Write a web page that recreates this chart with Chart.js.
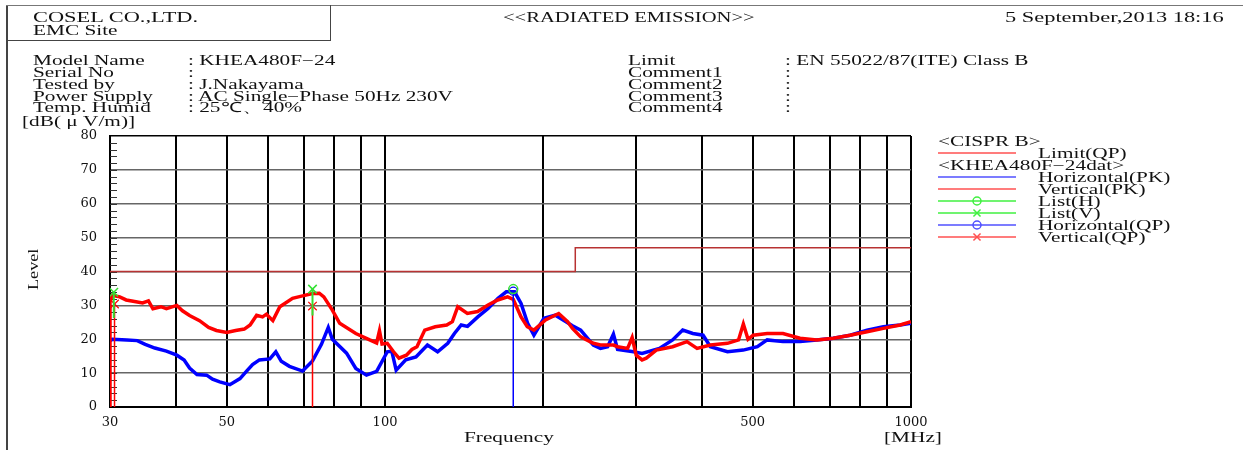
<!DOCTYPE html>
<html>
<head>
<meta charset="utf-8">
<script src="https://cdn.jsdelivr.net/npm/chart.js@4.4.0/dist/chart.umd.min.js"></script>
<style>
body { margin: 0; background: #fff; }
#wrap { position: relative; width: 1243px; height: 450px; overflow: hidden; }
canvas { position: absolute; left: 0; top: 0; }
.t { position: absolute; font: 14px 'Liberation Serif', serif; line-height: 14px; white-space: pre;
     transform-origin: 0 0; transform: scaleX(1.52); color: #111; }
.ln { position: absolute; background: #444; }
</style>
</head>
<body>
<div id="wrap">
  <canvas id="myChart" width="1243" height="450"></canvas>

  <div class="ln" style="left:6px;top:5px;width:2px;height:445px;"></div>
  <div class="ln" style="left:6px;top:5px;width:1237px;height:1px;background:#777;"></div>
  <div class="ln" style="left:6px;top:40px;width:325px;height:1px;"></div>
  <div class="ln" style="left:330px;top:5px;width:1px;height:36px;"></div>

  <div class="t" style="left:33px;top:11px;transform:scaleX(1.6);">COSEL CO.,LTD.</div>
  <div class="t" style="left:33px;top:24px;">EMC Site</div>
  <div class="t" style="left:503px;top:11px;transform:scaleX(1.47);">&lt;&lt;RADIATED EMISSION&gt;&gt;</div>
  <div class="t" style="left:1005px;top:11px;transform:scaleX(1.6);">5 September,2013 18:16</div>

  <div class="t" style="left:33px;top:54px;">Model Name</div>
  <div class="t" style="left:33px;top:66px;">Serial No</div>
  <div class="t" style="left:33px;top:78px;">Tested by</div>
  <div class="t" style="left:33px;top:90px;">Power Supply</div>
  <div class="t" style="left:33px;top:101px;">Temp. Humid</div>
  <div class="t" style="left:188px;top:54px;">: KHEA480F−24</div>
  <div class="t" style="left:188px;top:66px;">:</div>
  <div class="t" style="left:188px;top:78px;">: J.Nakayama</div>
  <div class="t" style="left:188px;top:90px;">: AC Single−Phase 50Hz 230V</div>
  <div class="t" style="left:188px;top:101px;">: 25℃、40%</div>

  <div class="t" style="left:628px;top:54px;">Limit</div>
  <div class="t" style="left:628px;top:66px;">Comment1</div>
  <div class="t" style="left:628px;top:78px;">Comment2</div>
  <div class="t" style="left:628px;top:90px;">Comment3</div>
  <div class="t" style="left:628px;top:101px;">Comment4</div>
  <div class="t" style="left:785px;top:54px;">: EN 55022/87(ITE) Class B</div>
  <div class="t" style="left:785px;top:66px;">:</div>
  <div class="t" style="left:785px;top:78px;">:</div>
  <div class="t" style="left:785px;top:90px;">:</div>
  <div class="t" style="left:785px;top:101px;">:</div>

  <div class="t" style="left:22px;top:115px;">[dB( μ V/m)]</div>
  <div class="t" style="left:464px;top:431px;">Frequency</div>
  <div class="t" style="left:884px;top:431px;">[MHz]</div>
  <div class="t" style="left:27px;top:290px;transform:rotate(-90deg) scaleX(1.3);">Level</div>

  <div class="t" style="left:938px;top:135px;">&lt;CISPR B&gt;</div>
  <div class="t" style="left:1038px;top:147px;">Limit(QP)</div>
  <div class="t" style="left:938px;top:159px;">&lt;KHEA480F−24dat&gt;</div>
  <div class="t" style="left:1038px;top:171px;">Horizontal(PK)</div>
  <div class="t" style="left:1038px;top:183px;">Vertical(PK)</div>
  <div class="t" style="left:1038px;top:195px;">List(H)</div>
  <div class="t" style="left:1038px;top:207px;">List(V)</div>
  <div class="t" style="left:1038px;top:219px;">Horizontal(QP)</div>
  <div class="t" style="left:1038px;top:231px;">Vertical(QP)</div>
</div>

<script>
// frequency axis [MHz]
const xGrid = [30, 40, 50, 60, 70, 80, 90, 100, 200, 300, 400, 500, 600, 700, 800, 900, 1000];
const xLabels = [30, 50, 100, 500, 1000];

// limit EN 55022 class B (QP)
const limitFreq = [30, 230, 230, 1000];
const limitLevel = [40, 40, 47, 47];

// Vertical(PK) trace
const vFreq = [30, 30, 30.3, 31.3, 32.2, 33.2, 34.6, 35.5, 36.2, 37.5, 38.4, 40.2, 41.2, 42.5, 44.4,
    46.2, 47.8, 50.0, 52.0, 54.0, 55.4, 57.0, 58.5, 59.5, 61.2, 63.1, 66.7, 69.7, 72.8, 75.0,
    76.5, 79.4, 82.0, 88.0, 93.5, 96.4, 97.6, 98.7, 101, 103.8, 106.3, 109.8, 112.5, 115, 119,
    124.6, 131, 134.3, 137.5, 143.4, 150, 157, 163.8, 171, 175.3, 181.4, 186.4, 191.9, 201.9,
    213.9, 222.4, 227.2, 235.5, 248.9, 256.8, 271.8, 276.8, 289.2, 295, 300.3, 308.1, 313.8,
    327.9, 352.2, 375, 392, 415.6, 447.8, 470, 480, 490, 501.1, 532.8, 570.9, 615.2, 662.1,
    711.7, 766.3, 824.9, 885.9, 953.4, 1000];
const vLevel = [0, 31, 33.0, 32.5, 31.6, 31.2, 30.7, 31.3, 29.0, 29.6, 29.0, 30.0, 28.4, 27.0, 25.5,
    23.5, 22.6, 22.0, 22.6, 23.0, 24.2, 27.1, 26.6, 27.4, 25.5, 29.6, 32.1, 32.8, 33.5, 33.6,
    32.5, 28.6, 24.7, 21.7, 19.8, 18.9, 22.5, 18.6, 18.8, 16.3, 14.4, 15.3, 17.0, 17.8, 22.7,
    23.7, 24.2, 25.2, 29.6, 27.6, 28.2, 30.1, 31.6, 32.5, 31.8, 26.6, 23.7, 22.7, 25.7,
    27.6, 25.2, 23.2, 20.7, 18.8, 18.3, 18.3, 17.8, 17.3, 20.5, 15.3, 13.9, 14.4,
    16.8, 17.8, 19.3, 17.3, 18.3, 18.8, 19.8, 24.5, 20.0, 21.2, 21.7, 21.7, 20.3, 19.8,
    20.3, 21.2, 22.2, 23.2, 24.2, 25.2];

// Horizontal(PK) trace
const hFreq = [30, 30.3, 32.3, 33.8, 35.0, 36.5, 38.4, 40.2, 41.5, 42.5, 43.9, 45.8, 47.0, 48.5,
    50.7, 53.0, 54.5, 56.0, 57.7, 60.4, 62.0, 63.5, 65.8, 69.7, 72.8, 75.7, 78.0, 79.4, 84.5,
    88.0, 92.2, 96.4, 101, 103, 105, 109.5, 114.5, 120.4, 125.9, 131.6, 135.5, 139.6, 143.5,
    150.1, 157, 164, 170, 176.3, 181.4, 186.7, 191.9, 200.5, 210.8, 227.2, 235.5, 248.9, 256.8,
    265, 271.8, 276.8, 296.9, 308.1, 332.4, 352.2, 368.1, 384.8, 402.4, 415.6, 447.8, 479.7,
    510.4, 532.8, 570.9, 615.2, 662.1, 711.7, 766.3, 824.9, 885.9, 953.4, 1000];
const hLevel = [19.5, 20.0, 19.8, 19.6, 18.5, 17.4, 16.5, 15.3, 13.9, 11.5, 9.6, 9.4, 8.2, 7.4,
    6.6, 8.4, 10.5, 12.5, 13.9, 14.2, 16.3, 13.5, 12.0, 10.6, 13.6, 18.5, 23.5, 20.0, 15.9,
    11.4, 9.4, 10.5, 16.3, 16.5, 10.9, 13.9, 14.8, 18.3, 16.3, 18.8, 21.7, 24.2, 23.8,
    26.6, 29.1, 32.1, 34.0, 34.0, 30.6, 24.7, 21.2, 26.2, 27.1, 24.0, 22.7, 18.3, 17.3,
    17.8, 21.5, 17.0, 16.3, 15.8, 17.3, 19.8, 22.7, 21.7, 21.2, 17.8, 16.3, 16.8,
    17.8, 19.8, 19.3, 19.3, 19.8, 20.3, 21.2, 22.7, 23.7, 24.2, 24.7];

// list / QP markers
const listHFreq = [175.3];
const listHLevel = [34.8];
const listVFreq = [30.5, 72.8];
const listVLevel = [33.9, 34.8];
const listVLow = [26.3, 27.0];
const hQpFreq = [175.3];
const hQpLevel = [34.2];
const vQpFreq = [30.6, 72.8];
const vQpLevel = [30.4, 29.8];

const RED = '#ff0000', BLUE = '#0000ff', GREEN = '#33e033', LIMIT = '#b83232';

const pairs = (xs, ys) => xs.map((x, i) => ({ x: x, y: ys[i] }));
// vertical marker sticks: from low up to value, marker on top
const sticks = (xs, lows, ys) => {
    const out = [];
    xs.forEach((x, i) => {
        out.push({ x: x, y: lows[i] }, { x: x, y: ys[i], top: true }, { x: x, y: null });
    });
    return out;
};
const topOnly = r => ctx => (ctx.raw && ctx.raw.top ? r : 0);

const minorTicks = {
    id: 'minorTicks',
    beforeDatasetsDraw(chart) {
        const y = chart.scales.y, ctx = chart.ctx, left = chart.chartArea.left;
        ctx.save();
        ctx.strokeStyle = '#333';
        ctx.lineWidth = 1;
        for (let v = 2; v < 80; v += 2) {
            const py = Math.round(y.getPixelForValue(v)) + 0.5;
            ctx.beginPath();
            ctx.moveTo(left, py);
            ctx.lineTo(left + 7, py);
            ctx.stroke();
        }
        ctx.restore();
    }
};

const legendSamples = {
    id: 'legendSamples',
    afterDraw(chart) {
        const ctx = chart.ctx;
        const rows = [
            { y: 153, color: '#ff5050', marker: null },
            { y: 177, color: '#5050ff', marker: null },
            { y: 189, color: '#ff5050', marker: null },
            { y: 201, color: '#40f040', marker: 'circle' },
            { y: 213, color: '#40f040', marker: 'crossRot' },
            { y: 225, color: '#5050ff', marker: 'circle' },
            { y: 237, color: '#ff5050', marker: 'crossRot' }
        ];
        ctx.save();
        rows.forEach(r => {
            ctx.strokeStyle = r.color;
            ctx.lineWidth = 1.5;
            ctx.beginPath();
            ctx.moveTo(938, r.y);
            ctx.lineTo(1016, r.y);
            ctx.stroke();
            if (r.marker) {
                ctx.fillStyle = 'rgba(0,0,0,0)';
                Chart.helpers.drawPoint(ctx, {
                    pointStyle: r.marker, radius: r.marker === 'circle' ? 4 : 5,
                    borderWidth: 1.5, rotation: 0
                }, 977, r.y);
            }
        });
        ctx.restore();
    }
};

const renderChart = () => {
    const ctx = document.getElementById('myChart').getContext('2d');
    new Chart(ctx, {
        type: 'line',
        data: {
            datasets: [
                {
                    label: 'List(H)', data: pairs(listHFreq, listHLevel).map(p => ({ ...p, top: true })),
                    showLine: false, borderColor: GREEN, backgroundColor: 'rgba(0,0,0,0)',
                    pointStyle: 'circle', pointRadius: 4.5, pointBorderWidth: 1.5, order: 0
                },
                {
                    label: 'List(V)', data: sticks(listVFreq, listVLow, listVLevel),
                    borderColor: GREEN, borderWidth: 2, backgroundColor: 'rgba(0,0,0,0)',
                    pointStyle: 'crossRot', pointRadius: topOnly(6), pointBorderWidth: 1.5,
                    spanGaps: false, order: 0
                },
                {
                    label: 'Horizontal(QP)', data: sticks(hQpFreq, [0], hQpLevel),
                    borderColor: BLUE, borderWidth: 1.5, backgroundColor: 'rgba(0,0,0,0)',
                    pointStyle: 'circle', pointRadius: topOnly(4), pointBorderWidth: 1.2,
                    spanGaps: false, order: 1
                },
                {
                    label: 'Vertical(QP)', data: sticks(vQpFreq, [0, 0], vQpLevel),
                    borderColor: RED, borderWidth: 1.5, backgroundColor: 'rgba(0,0,0,0)',
                    pointStyle: 'crossRot', pointRadius: topOnly(6), pointBorderWidth: 1.2,
                    spanGaps: false, order: 1
                },
                {
                    label: 'Vertical(PK)', data: pairs(vFreq, vLevel),
                    borderColor: RED, borderWidth: 3.5, pointRadius: 0, order: 2
                },
                {
                    label: 'Horizontal(PK)', data: pairs(hFreq, hLevel),
                    borderColor: BLUE, borderWidth: 3.5, pointRadius: 0, order: 3
                },
                {
                    label: 'Limit(QP)', data: pairs(limitFreq, limitLevel),
                    borderColor: LIMIT, borderWidth: 1.5, pointRadius: 0, order: 4
                }
            ]
        },
        options: {
            responsive: false,
            animation: false,
            devicePixelRatio: 1,
            layout: { padding: { left: 0, right: 332, top: 136, bottom: 0 } },
            scales: {
                x: {
                    type: 'logarithmic',
                    min: 30,
                    max: 1000,
                    afterBuildTicks: scale => { scale.ticks = xGrid.map(v => ({ value: v })); },
                    afterFit: scale => { scale.height = 43; },
                    ticks: {
                        autoSkip: false,
                        maxRotation: 0,
                        padding: 8,
                        color: '#111',
                        font: { family: 'DejaVu Serif', size: 13 },
                        callback: v => (xLabels.includes(v) ? String(v) : '')
                    },
                    grid: { color: '#000', lineWidth: 2, drawTicks: false },
                    border: { color: '#000', width: 2 }
                },
                y: {
                    min: 0,
                    max: 80,
                    afterFit: scale => { scale.width = 110; },
                    ticks: {
                        stepSize: 10,
                        padding: 13,
                        color: '#111',
                        font: { family: 'DejaVu Serif', size: 13 }
                    },
                    grid: {
                        drawTicks: false,
                        lineWidth: 1.5,
                        color: c => (c.tick && (c.tick.value === 0 || c.tick.value === 80) ? '#000' : '#666')
                    },
                    border: { color: '#000', width: 2 }
                }
            },
            plugins: {
                legend: { display: false },
                tooltip: { enabled: false }
            }
        },
        plugins: [minorTicks, legendSamples]
    });
};

renderChart();
</script>
</body>
</html>
